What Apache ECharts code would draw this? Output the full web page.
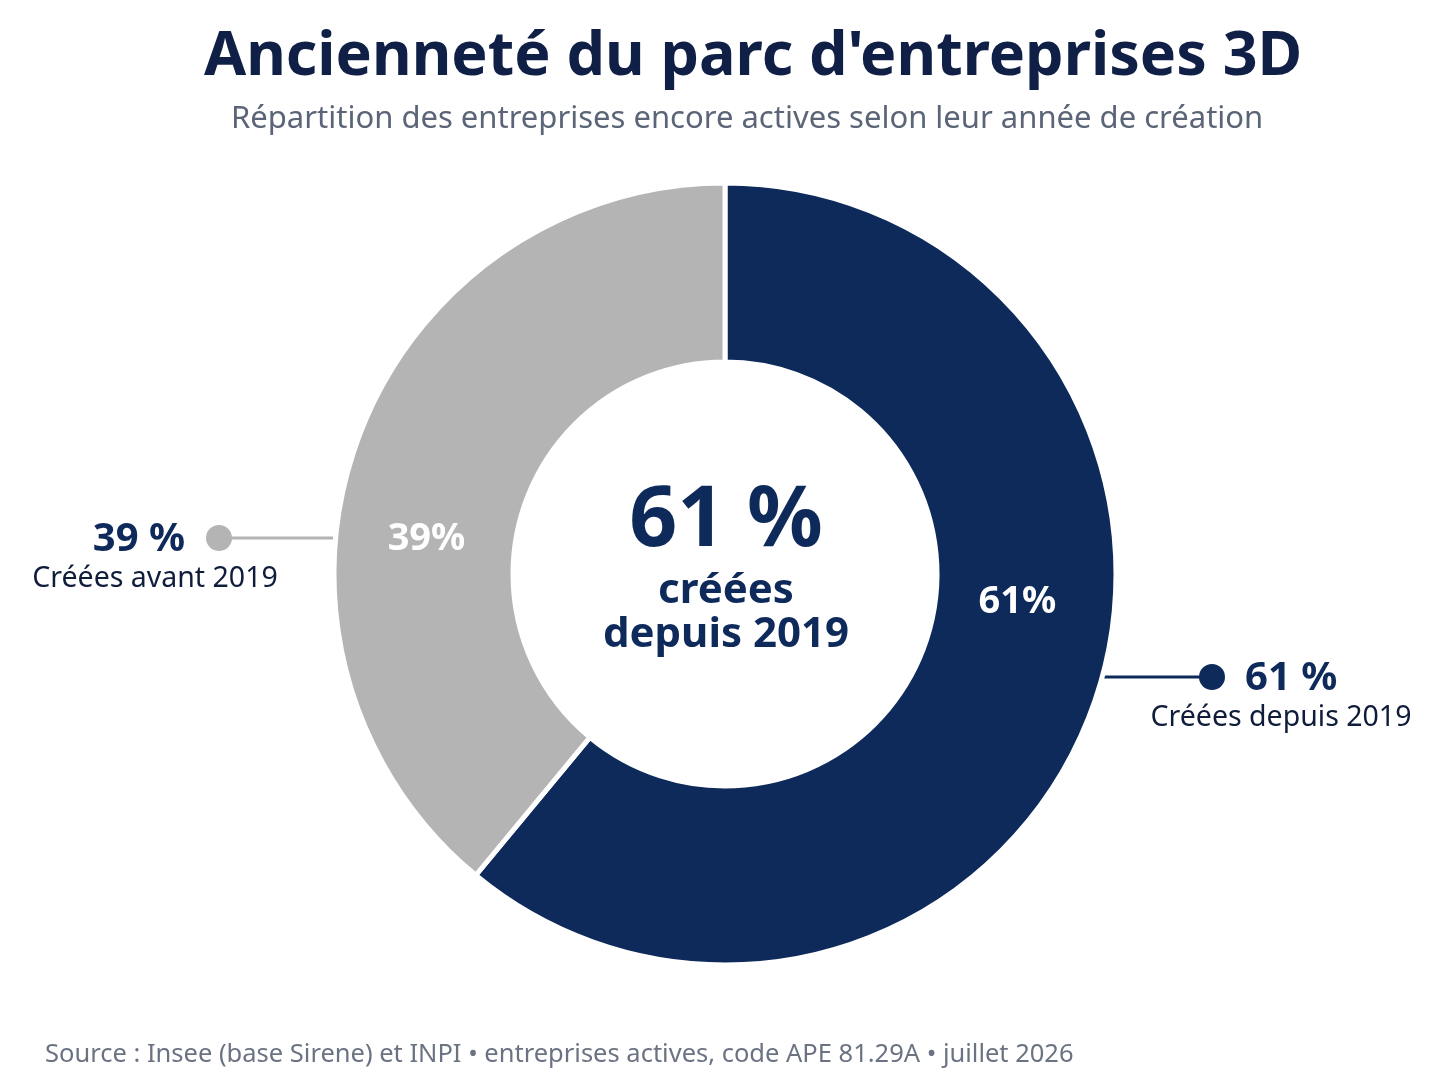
<!DOCTYPE html>
<html>
<head>
<meta charset="utf-8">
<script src="https://cdn.jsdelivr.net/npm/echarts@6/dist/echarts.min.js"></script>
<style>
  html, body { margin: 0; padding: 0; background: #ffffff; }
  #chart { width: 1448px; height: 1086px; }
</style>
</head>
<body>
<div id="chart"></div>
<script>
// data
var categories = ['Créées depuis 2019', 'Créées avant 2019'];
var shares = [61, 39];
var colors = ['#0d2a5b', '#b4b4b4'];

var titleText = "Ancienneté du parc d'entreprises 3D";
var subtitleText = 'Répartition des entreprises encore actives selon leur année de création';
var sourceText = 'Source : Insee (base Sirene) et INPI • entreprises actives, code APE 81.29A • juillet 2026';

var navy = '#0d2a5b';
var font = '"Noto Sans", "Open Sans", sans-serif';

var chart = echarts.init(document.getElementById('chart'), null, { renderer: 'canvas' });

var pieData = categories.map(function (c, i) {
    return { name: c, value: shares[i], itemStyle: { color: colors[i] } };
});

// annotations on both sides (line + dot + text)
function sideNote(i, lineX1, lineX2, dotX, y, textX, align, subX) {
    return [
        { type: 'line', shape: { x1: lineX1, y1: y, x2: lineX2, y2: y },
          style: { stroke: colors[i], lineWidth: 3 } },
        { type: 'circle', shape: { cx: dotX, cy: y, r: 13 }, style: { fill: colors[i] } },
        { type: 'text', x: textX, y: y + 2,
          style: { text: shares[i] + ' %', fill: navy, font: 'bold 40px ' + font,
                   textAlign: align, textVerticalAlign: 'middle' } },
        { type: 'text', x: subX, y: y + 41,
          style: { text: categories[i], fill: '#0f1c3a', font: '28.5px ' + font,
                   textAlign: 'center', textVerticalAlign: 'middle' } }
    ];
}

var graphics = []
    .concat(sideNote(1, 228, 333, 219, 538, 185, 'right', 155))
    .concat(sideNote(0, 1103, 1212, 1212, 677, 1245, 'left', 1281))
    .concat([
        { type: 'text', x: 726, y: 522,
          style: { text: shares[0] + ' %', fill: navy, font: 'bold 84px ' + font,
                   textAlign: 'center', textVerticalAlign: 'middle' } },
        { type: 'text', x: 726, y: 591,
          style: { text: 'créées', fill: navy, font: 'bold 42px ' + font,
                   textAlign: 'center', textVerticalAlign: 'middle' } },
        { type: 'text', x: 726, y: 635,
          style: { text: 'depuis 2019', fill: navy, font: 'bold 42px ' + font,
                   textAlign: 'center', textVerticalAlign: 'middle' } }
    ]);

var option = {
    backgroundColor: '#ffffff',
    animation: false,
    title: [
        {
            text: titleText,
            left: 199,
            top: 22,
            textStyle: { fontFamily: font, fontSize: 61, fontWeight: 'bold', color: '#0f1f45' }
        },
        {
            text: subtitleText,
            left: 226,
            top: 99,
            textStyle: { fontFamily: font, fontSize: 31, fontWeight: 'normal', color: '#5b6577' }
        },
        {
            text: sourceText,
            left: 40,
            top: 1037,
            textStyle: { fontFamily: font, fontSize: 25.5, fontWeight: 'normal', color: '#6b7383' }
        }
    ],
    series: [
        {
            type: 'pie',
            center: [725, 574],
            radius: [212, 391],
            startAngle: 90,
            clockwise: true,
            silent: true,
            itemStyle: { borderColor: '#ffffff', borderWidth: 5 },
            label: {
                show: true,
                position: 'inside',
                formatter: '{c}%',
                color: '#ffffff',
                fontFamily: font,
                fontSize: 38,
                fontWeight: 'bold'
            },
            labelLine: { show: false },
            // inside labels sit closer to the horizontal than the slice middle
            labelLayout: function (params) {
                return params.dataIndex === 0 ? { dx: 6, dy: -75 } : { dx: -12, dy: 68 };
            },
            data: pieData
        }
    ],
    graphic: graphics
};

chart.setOption(option);
</script>
</body>
</html>
